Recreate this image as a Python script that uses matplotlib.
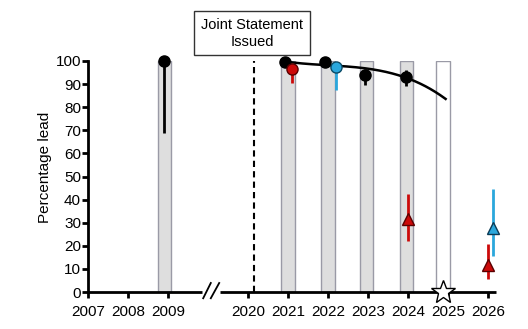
import numpy as np
import matplotlib
matplotlib.use("Agg")
import matplotlib.pyplot as plt

plt.rcParams['font.family'] = ['Liberation Sans', 'DejaVu Sans']

# --- data ---
tick_pos = [0, 1, 2, 4, 5, 6, 7, 8, 9, 10]
tick_labels = ["2007", "2008", "2009", "2020", "2021", "2022", "2023", "2024", "2025", "2026"]

bar_pos = [1.91, 5.0, 6.0, 6.96, 7.97]
bar_height = [100, 100, 100, 100, 100]
white_bar_pos = [8.875]
white_bar_height = [100]

black_x = [1.91, 4.925, 5.925, 6.925, 7.94]
black_y = [100, 99.6, 99.6, 93.8, 93.2]
black_lo = [69, 99.6, 99.6, 89.5, 89.0]
black_hi = [100, 99.6, 99.6, 96.7, 96.0]

red_c_x = [5.11]
red_c_y = [96.4]
red_c_lo = [90.5]
red_c_hi = [97.5]

blue_c_x = [6.21]
blue_c_y = [97.4]
blue_c_lo = [87.3]
blue_c_hi = [98.5]

red_t_x = [8.0, 10.01]
red_t_y = [31.5, 11.6]
red_t_lo = [22.1, 5.8]
red_t_hi = [42.6, 20.6]

blue_t_x = [10.12]
blue_t_y = [27.7]
blue_t_lo = [15.5]
blue_t_hi = [44.5]

star_x = [8.875]
star_y = [0]

curve_x = [4.93, 5.3, 6.3, 7.38, 7.97, 8.94]
curve_y = [99.6, 99.3, 97.8, 95.2, 93.0, 83.5]

statement_x = 4.1
statement_pos = 4.15

RED = '#cc0a0a'
BLUE = '#2aa7dc'

fig = plt.figure(figsize=(5.28, 3.29), dpi=100)
ax = fig.add_axes([88/528, 1-292/329, (496-88)/528, (292-61)/329])
ax.set_xlim(0, 10.2)
ax.set_ylim(0, 100)

ax.bar(bar_pos, bar_height, width=0.33, color='#dedede', edgecolor='#9a9aa6', linewidth=1, zorder=1)
ax.bar(white_bar_pos, white_bar_height, width=0.33, color='white', edgecolor='#9a9aa6', linewidth=1, zorder=1)

ax.axvline(statement_pos, 0, 1, color='black', linestyle=(0, (3, 2)), linewidth=1.5, zorder=2)

# fitted curve
cf = np.polyfit(curve_x, curve_y, 3)
cx = np.linspace(curve_x[0], curve_x[-1], 200)
ax.plot(cx, np.polyval(cf, cx), color='black', linewidth=1.8, zorder=3, clip_on=False)

def errs(x, y, lo, hi, color, marker, ms, ec):
    for xi, yi, l, h in zip(x, y, lo, hi):
        ax.plot([xi, xi], [l, h], color=color, linewidth=2, zorder=4, clip_on=False, solid_capstyle='butt')
    ax.plot(x, y, linestyle='none', marker=marker, markersize=ms, markerfacecolor=color,
            markeredgecolor=ec, markeredgewidth=1, zorder=5, clip_on=False)

errs(black_x, black_y, black_lo, black_hi, 'black', 'o', 8, 'black')
errs(red_c_x, red_c_y, red_c_lo, red_c_hi, RED, 'o', 8, '#5a0000')
errs(blue_c_x, blue_c_y, blue_c_lo, blue_c_hi, BLUE, 'o', 8, '#0b4a66')
errs(red_t_x, red_t_y, red_t_lo, red_t_hi, RED, '^', 8, '#5a0000')
errs(blue_t_x, blue_t_y, blue_t_lo, blue_t_hi, BLUE, '^', 8, '#0b3a55')

ax.plot(star_x, star_y, linestyle='none', marker='*', markersize=18, markerfacecolor='white',
        markeredgecolor='black', markeredgewidth=1, zorder=6, clip_on=False)

# spines
for s in ['top', 'right', 'bottom']:
    ax.spines[s].set_visible(False)
ax.spines['left'].set_linewidth(2)
ax.spines['left'].set_color('black')

# broken x-axis line
ax.plot([0, 2.85], [0, 0], color='black', linewidth=2, clip_on=False, zorder=2, solid_capstyle='butt')
ax.plot([3.3, 10.2], [0, 0], color='black', linewidth=2, clip_on=False, zorder=2, solid_capstyle='butt')
ax.plot([2.88, 3.07], [-2.7, 3.9], color='black', linewidth=1.3, clip_on=False)
ax.plot([3.07, 3.28], [-2.7, 3.9], color='black', linewidth=1.3, clip_on=False)

ax.set_yticks(range(0, 101, 10))
ax.set_xticks(tick_pos)
ax.set_xticklabels(tick_labels)
ax.tick_params(axis='y', direction='out', length=4, width=2, labelsize=11, pad=1)
ax.tick_params(axis='x', direction='out', length=4, width=2, labelsize=11, pad=5)

ax.set_ylabel("Percentage lead", fontsize=11, va='center')
ax.yaxis.set_label_coords(-0.106, 0.54)

ax.text(statement_x, 112, "Joint Statement\nIssued", ha='center', va='center', fontsize=10.5,
        linespacing=1.3,
        bbox=dict(boxstyle='square,pad=0.45', facecolor='white', edgecolor='#333333', linewidth=1),
        clip_on=False)

fig.savefig("out.png", dpi=100)
